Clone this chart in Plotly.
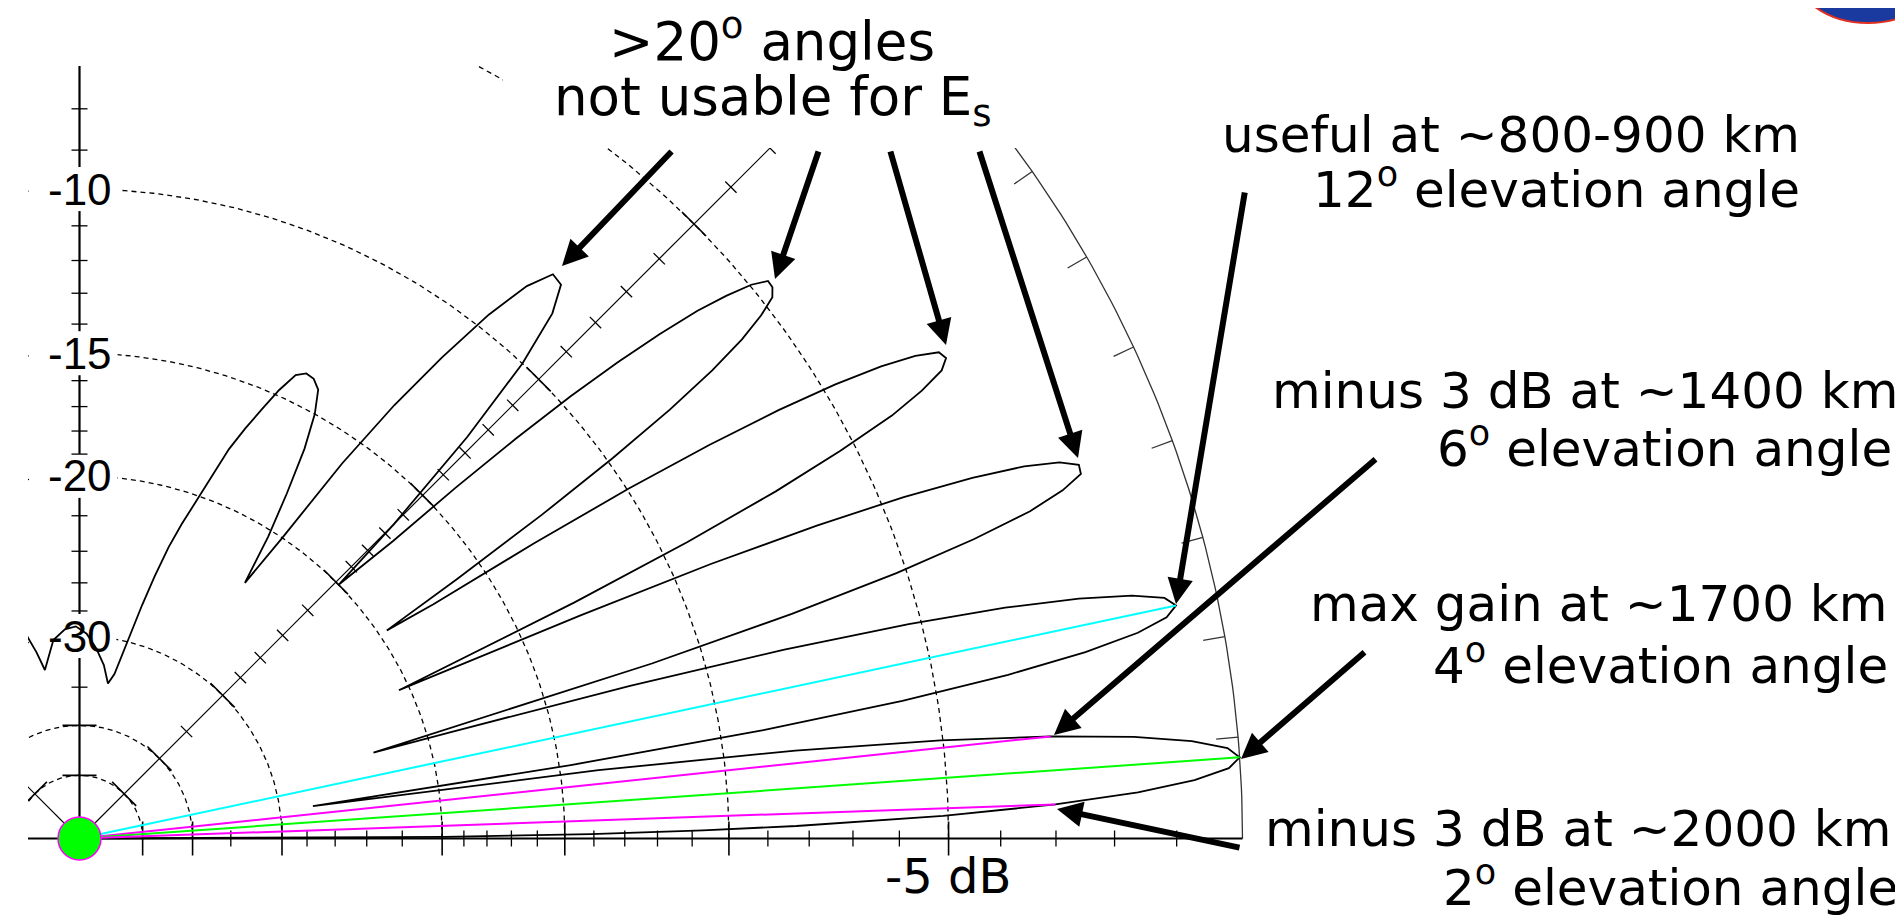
import math
import plotly.graph_objects as go

# ---------------- data ----------------
# elevation pattern: elevation angle (deg) and relative gain (dB, 0 = max)
elevation_deg = [
    0, 0.25, 0.5, 0.75, 1, 1.5, 2, 2.5, 3, 3.5, 4, 4.5, 5, 5.5, 6, 6.5, 7, 7.5, 7.9,
    8.5, 9, 9.5, 10, 10.5, 11, 11.5, 12, 12.5, 13, 13.5, 14, 14.5, 15, 15.5, 16, 16.3,
    17, 17.5, 18, 18.5, 19, 19.5, 20, 20.5, 21, 21.5, 22, 22.5, 23, 23.5, 24, 24.9,
    25.5, 26, 26.5, 27, 27.5, 28, 28.5, 29, 29.5, 30, 30.5, 31, 31.5, 32, 32.5, 33, 33.5, 34.1,
    34.5, 35, 35.5, 36, 36.5, 37, 37.5, 38, 38.5, 39, 39.5, 40, 40.5, 41, 41.5, 42, 42.5, 43, 43.5, 44.4,
    45, 46, 47, 48, 49, 50, 51, 52, 53, 54, 55, 56, 57.1,
    58, 59, 60, 61, 62, 63, 64, 65, 66, 67, 68, 69, 70, 71, 72, 73, 74, 75, 76, 77, 78, 79.6,
    82, 85, 88, 91, 94, 97.5, 100, 101.6, 103, 104.5, 107, 110,
]
gain_db = [
    -99, -19.9, -14.1, -10.7, -8.3, -5.1, -3.0, -1.6, -0.7, -0.17, 0.0, -0.17, -0.7, -1.6, -3.0, -5.05, -8.2, -13.7, -27.4,
    -14.6, -8.9, -5.7, -3.6, -2.2, -1.3, -0.81, -0.63, -0.78, -1.27, -2.12, -3.4, -5.25, -8.0, -12.2, -19.0, -22.9,
    -11.4, -7.6, -5.2, -3.6, -2.5, -1.87, -1.5, -1.48, -1.76, -2.33, -3.24, -4.55, -6.4, -9.0, -12.9, -20.5,
    -12.9, -9.3, -6.9, -5.3, -4.1, -3.4, -2.92, -2.75, -2.81, -3.2, -3.83, -4.75, -6.0, -7.7, -9.95, -13.1, -17.3, -19.6,
    -16.0, -12.4, -9.86, -8.0, -6.7, -5.8, -5.2, -4.8, -4.68, -4.67, -4.97, -5.5, -6.15, -7.1, -8.26, -9.7, -11.6, -14.0, -17.0, -20.0,
    -16.5, -12.6, -10.0, -8.55, -7.9, -7.84, -8.45, -9.6, -11.3, -13.3, -16.0, -20.0, -23.0,
    -20.3, -18.2, -16.3, -15.0, -14.2, -13.95, -13.9, -14.1, -14.8, -15.7, -16.6, -17.6, -19.0, -20.3, -21.6, -23.0, -24.9, -27.0, -29.5, -31.6, -33.2, -34.3,
    -32.5, -31.0, -29.8, -29.2, -29.4, -30.2, -31.8, -32.8, -31.0, -29.5, -28.0, -27.5,
]
assert len(elevation_deg) == len(gain_db)

# marked directions drawn from the antenna (elevation deg, gain dB)
ray_elevation_deg = [12, 6, 4, 2]
ray_gain_db = [-0.63, -3.0, 0.0, -3.0]

# grid of the ARRL log scale
ring_db = [-5, -10, -15, -20, -30, -40, -50]
minor_tick_db = [-1, -2, -3, -4, -6, -7, -8, -9, -11, -12, -13, -14, -16, -17, -18, -19,
                 -22, -24, -26, -28, -35]
axis_label_db = [-10, -15, -20, -30]
axis_label_text = ["-10", "-15", "-20", "-30"]
angle_tick_deg = [5, 10, 15, 20, 25, 30, 35, 40, 45, 50, 55, 60, 65, 70, 75, 80, 85,
                  95, 100, 105, 110, 115, 120, 125, 130, 135, 140, 145, 150, 155, 160, 165, 170, 175]
radial_axis_deg = [0, 45, 90, 135, 180]

# annotation texts
top_lines = [">20<sup>o</sup> angles", "not usable for E<sub>s</sub>"]
note_lines = [
    "useful at ~800-900 km", "12<sup>o</sup> elevation angle",
    "minus 3 dB at ~1400 km", "6<sup>o</sup> elevation angle",
    "max gain at ~1700 km", "4<sup>o</sup> elevation angle",
    "minus 3 dB at ~2000 km", "2<sup>o</sup> elevation angle",
]

# ---------------- layout geometry (pixels) ----------------
W, H = 1903, 916
OX, OY = 71.5, 830.5        # antenna position on the page
R_PX = 1163.0               # 0 dB radius
CLIP_L, CLIP_T = 20, 58
GAP_L, GAP_R, GAP_HALF_H = 50, 36, 22   # blank area around the axis labels


def arrl(db):
    """ARRL log scale: radius factor 0.89 per 2 dB."""
    return 0.89 ** (-db / 2.0)


def pxy(theta, db):
    r = arrl(db)
    t = math.radians(theta)
    return r * math.cos(t), r * math.sin(t)


def paper_x(px):
    return px / W


def paper_y(py):
    return 1 - py / H


fig = go.Figure()
black = "#000000"

# dashed dB rings (left open around the axis labels)
for db in ring_db:
    r = arrl(db)
    xs, ys = [], []
    for i in range(361):
        t = math.radians(i * 0.5)
        x, y = r * math.cos(t), r * math.sin(t)
        if db in axis_label_db and -GAP_L / R_PX < x < GAP_R / R_PX:
            if xs and xs[-1] is not None:
                xs.append(None)
                ys.append(None)
            continue
        xs.append(x)
        ys.append(y)
    fig.add_trace(go.Scatter(x=xs, y=ys, mode="lines",
                             line=dict(color=black, width=1.3, dash="5px,4px"),
                             hoverinfo="skip"))

# 0 dB outer ring
ts = [i * 0.5 for i in range(361)]
fig.add_trace(go.Scatter(
    x=[math.cos(math.radians(t)) for t in ts],
    y=[math.sin(math.radians(t)) for t in ts],
    mode="lines", line=dict(color="#333333", width=1.3), hoverinfo="skip"))

# radial axes (the vertical one is broken where the labels sit)
for a in radial_axis_deg:
    ca, sa = math.cos(math.radians(a)), math.sin(math.radians(a))
    wid = 2.2 if a in (0, 90, 180) else 1.2
    if a == 90:
        cuts = sorted(arrl(db) for db in axis_label_db)
        ys, start = [], 0.0
        for c in cuts:
            ys += [start, c - GAP_HALF_H / R_PX, None]
            start = c + GAP_HALF_H / R_PX
        ys += [start, 1.0]
        xs = [None if v is None else 0 for v in ys]
    else:
        xs, ys = [0, ca], [0, sa]
    fig.add_trace(go.Scatter(x=xs, y=ys, mode="lines",
                             line=dict(color=black, width=wid), hoverinfo="skip"))


def tick_trace(tick_list, half_px, width):
    xs, ys = [], []
    h = half_px / R_PX
    for a in radial_axis_deg:
        ar = math.radians(a)
        nx, ny = -math.sin(ar), math.cos(ar)
        for db in tick_list:
            if a == 90 and db in axis_label_db:
                continue
            r = arrl(db)
            cx, cy = r * math.cos(ar), r * math.sin(ar)
            xs += [cx - h * nx, cx + h * nx, None]
            ys += [cy - h * ny, cy + h * ny, None]
    return go.Scatter(x=xs, y=ys, mode="lines", line=dict(color=black, width=width),
                      hoverinfo="skip")


fig.add_trace(tick_trace(minor_tick_db, 8, 1.3))
fig.add_trace(tick_trace(ring_db, 17, 1.6))

# angle ticks on the 0 dB ring
xs, ys = [], []
inner = 1 - 22 / R_PX
for a in angle_tick_deg:
    ca, sa = math.cos(math.radians(a)), math.sin(math.radians(a))
    xs += [ca, inner * ca, None]
    ys += [sa, inner * sa, None]
fig.add_trace(go.Scatter(x=xs, y=ys, mode="lines", line=dict(color="#333333", width=1.3),
                         hoverinfo="skip"))

# elevation pattern
pat = [pxy(t, g) for t, g in zip(elevation_deg, gain_db)]
fig.add_trace(go.Scatter(x=[p[0] for p in pat], y=[p[1] for p in pat], mode="lines",
                         line=dict(color="#000000", width=1.8), hoverinfo="skip"))

# coloured direction rays
ray_colors = ["#00ffff", "#ff00ff", "#00ff00", "#ff00ff"]
for t, g, c in zip(ray_elevation_deg, ray_gain_db, ray_colors):
    ex, ey = pxy(t, g)
    fig.add_trace(go.Scatter(x=[0, ex], y=[0, ey], mode="lines",
                             line=dict(color=c, width=2), hoverinfo="skip"))

# antenna marker
fig.add_trace(go.Scatter(x=[0], y=[0], mode="markers",
                         marker=dict(size=43, color="#00ff00",
                                     line=dict(color="#ff00ff", width=1.5)),
                         hoverinfo="skip"))

annotations = []
# dB labels on the vertical axis
for db, txt in zip(axis_label_db, axis_label_text):
    annotations.append(dict(x=0, y=arrl(db), xref="x", yref="y", text=txt, showarrow=False,
                            xanchor="center", yanchor="middle",
                            font=dict(family="Liberation Sans, Arial", size=44, color=black)))
annotations.append(dict(x=arrl(-5), y=paper_y(868), xref="x", yref="paper", text="-5 dB",
                        showarrow=False, xanchor="center", yanchor="middle",
                        font=dict(family="DejaVu Sans", size=48, color=black)))

top_font = dict(family="DejaVu Sans", size=53, color=black)
top_pos = [(763.5, 30), (765, 93)]
for txt, (cx, cy) in zip(top_lines, top_pos):
    annotations.append(dict(x=paper_x(cx), y=paper_y(cy), xref="paper", yref="paper",
                            text=txt, showarrow=False, xanchor="center", yanchor="middle",
                            font=top_font))
note_font = dict(family="DejaVu Sans", size=50, color=black)
note_pos = [(1794, 126.7), (1794, 178.2), (1892, 382.7), (1886, 437.2),
            (1882, 595.7), (1882, 654.2), (1885, 820.7), (1892, 876.2)]
for txt, (rx, cy) in zip(note_lines, note_pos):
    annotations.append(dict(x=paper_x(rx), y=paper_y(cy), xref="paper", yref="paper",
                            text=txt, showarrow=False, xanchor="right", yanchor="middle",
                            font=note_font))

# arrows (head, tail) in page pixels
arrows = [((554, 258), (665, 142)), ((767, 271), (811, 142)), ((938, 337), (882, 142)),
          ((1070, 450), (971, 142)), ((1168, 596), (1237, 183)), ((1046, 727), (1369, 450)),
          ((1233, 751), (1358, 643)), ((1049, 801), (1233, 840))]
for (hx, hy), (tx, ty) in arrows:
    annotations.append(dict(x=paper_x(hx), y=paper_y(hy), xref="paper", yref="paper",
                            ax=tx - hx, ay=ty - hy, axref="pixel", ayref="pixel",
                            text="", showarrow=True, arrowhead=2, arrowsize=0.85,
                            arrowwidth=6, arrowcolor=black, standoff=0))

shapes = [
    # white text box of the slide hiding the top of the plot
    dict(type="rect", xref="paper", yref="paper", x0=paper_x(495), x1=paper_x(1015),
         y0=paper_y(140), y1=1.05, fillcolor="white", line=dict(width=0), layer="above"),
    # partial logo at the top right
    dict(type="circle", xref="paper", yref="paper", x0=paper_x(1785), x1=paper_x(1935),
         y0=paper_y(15), y1=paper_y(-95), fillcolor="#1a3aa0",
         line=dict(color="#e03020", width=2), layer="above"),
]

fig.update_layout(
    width=W, height=H, margin=dict(l=0, r=0, t=0, b=0, pad=0),
    paper_bgcolor="white", plot_bgcolor="white", showlegend=False, hovermode=False,
    annotations=annotations, shapes=shapes,
)
fig.update_xaxes(domain=[CLIP_L / W, 1],
                 range=[(CLIP_L - OX) / R_PX, (W - OX) / R_PX], autorange=False,
                 showgrid=False, zeroline=False, showticklabels=False, ticks="",
                 showline=False, fixedrange=True)
fig.update_yaxes(domain=[0, (H - CLIP_T) / H],
                 range=[-(H - OY) / R_PX, (OY - CLIP_T) / R_PX], autorange=False,
                 showgrid=False, zeroline=False, showticklabels=False, ticks="",
                 showline=False, fixedrange=True)

fig.write_html("out.html")
